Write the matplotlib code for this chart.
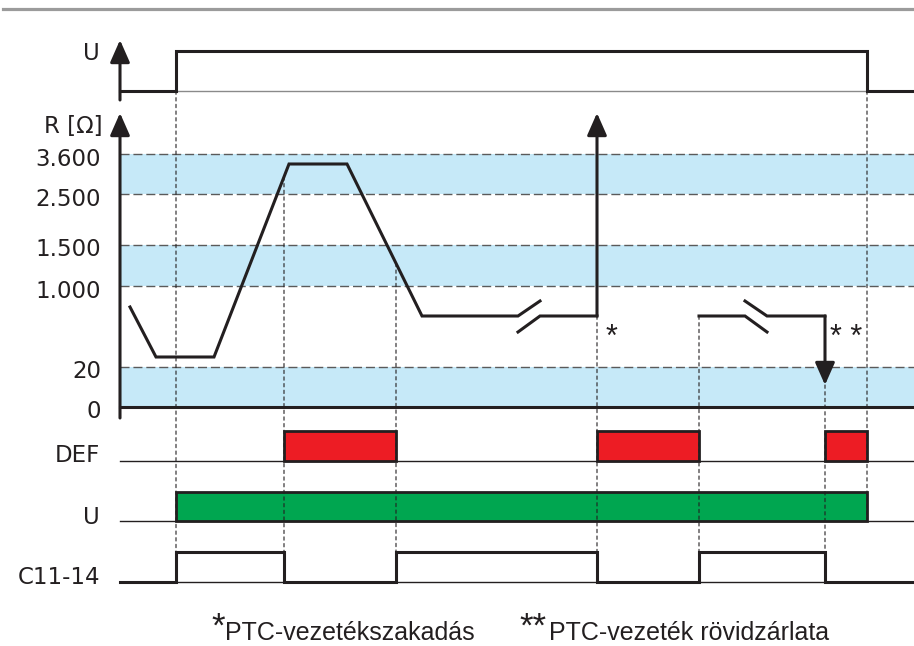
import matplotlib
matplotlib.use("Agg")
import matplotlib.pyplot as plt
import numpy as np
from matplotlib.patches import Rectangle, ConnectionPatch
from matplotlib.lines import Line2D
from matplotlib.transforms import ScaledTranslation

# ---------------- data ----------------
T_END = 794
# supply voltage U (top trace)
u_time = [0, 56, 56, 747, 747, 794]
u_state = [0, 0, 1, 1, 0, 0]

# R axis: tick labels and schematic level positions
r_tick_labels = ["0", "20", "1.000", "1.500", "2.500", "3.600"]
r_tick_levels = [0, 40, 121, 162, 213, 253]
r_band_pairs = [(0, 1), (2, 3), (4, 5)]

# PTC resistance trace (schematic levels)
r_seg1_t = [10, 36, 94, 169, 227, 302, 398, 420]
r_seg1_v = [100, 50, 50, 243, 243, 91, 91, 106]
r_seg2_t = [398, 420, 477]
r_seg2_v = [75, 91, 91]
r_seg3_t = [579, 625, 647]
r_seg3_v = [91, 91, 75]
r_seg4_t = [625, 647, 705]
r_seg4_v = [106, 91, 91]
r_open_arrow = (477, 91, 294)     # wire break: R -> infinity
r_short_arrow = (705, 91, 22)     # short circuit: R -> 0

# DEF LED / relay U LED windows
def_windows = [(164, 276), (477, 579), (705, 747)]
relay_windows = [(56, 747)]

# output contact C11-14
c_time = [0, 56, 56, 164, 164, 276, 276, 477, 477, 579, 579, 705, 705, 794]
c_state = [0, 0, 1, 1, 0, 0, 1, 1, 0, 0, 1, 1, 0, 0]

# ---------------- style ----------------
W, H = 914, 646
INK = "#231F20"
BLUE = "#C6E9F8"
RED = "#ED1C24"
GREEN = "#00A650"
plt.rcParams['font.family'] = ['Liberation Sans', 'DejaVu Sans']
LBL_FONT = ['DejaVu Sans']
LBL_FS = 16.5

fig = plt.figure(figsize=(W / 100, H / 100), dpi=100)


def add_ax(top, bottom, ylim, left=120, right=914):
    ax = fig.add_axes([left / W, 1 - bottom / H, (right - left) / W, (bottom - top) / H])
    ax.set_xlim(0, T_END)
    ax.set_ylim(*ylim)
    ax.axis('off')
    return ax


def off(dx, dy):
    return ScaledTranslation(dx / 100, -dy / 100, fig.dpi_scale_trans)


def row_label(ax, yval, text, dy, dx=-20):
    ax.text(0, yval, text, transform=ax.get_yaxis_transform() + off(dx, dy),
            ha='right', va='center', fontsize=LBL_FS, color=INK, family=LBL_FONT)


def arrow(ax, x0, y0, x1, y1, ms=20):
    ax.annotate('', xy=(x1, y1), xytext=(x0, y0), xycoords='data', annotation_clip=False,
                arrowprops=dict(arrowstyle='-|>,head_length=0.68,head_width=0.3',
                                color=INK, lw=2.2, mutation_scale=ms,
                                shrinkA=0, shrinkB=0))


# top grey rule
fig.add_artist(Line2D([3 / W, 1], [1 - 9 / H] * 2, color='#9b9b9b', lw=2.3))

# ---- top U trace ----
ax_u = add_ax(40, 100, (-0.225, 1.275))
ax_u.plot([0, T_END], [0, 0], color='#8a8a8a', lw=1.0, clip_on=False)
ax_u.plot(u_time, u_state, color=INK, lw=2.2, clip_on=False, solid_joinstyle='miter')
arrow(ax_u, 0, -0.225, 0, 1.275)
row_label(ax_u, 1, "U", 3)

# ---- R trace ----
ax_r = add_ax(113, 418, (-11, 294))
for a, b in r_band_pairs:
    ax_r.axhspan(r_tick_levels[a], r_tick_levels[b], color=BLUE, lw=0, zorder=0)
for lv in r_tick_levels[1:]:
    ax_r.axhline(lv, color='#5a5a5a', lw=1.0, ls=(0, (6.5, 2.8)), zorder=1)
ax_r.plot([0, T_END], [0, 0], color=INK, lw=2.2, clip_on=False, zorder=3)
arrow(ax_r, 0, -11, 0, 294)
for tt, vv in [(r_seg1_t, r_seg1_v), (r_seg2_t, r_seg2_v),
               (r_seg3_t, r_seg3_v), (r_seg4_t, r_seg4_v)]:
    ax_r.plot(tt, vv, color=INK, lw=2.2, clip_on=False, zorder=4, solid_joinstyle='miter')
arrow(ax_r, r_open_arrow[0], r_open_arrow[1], r_open_arrow[0], r_open_arrow[2], ms=20)
arrow(ax_r, r_short_arrow[0], r_short_arrow[1], r_short_arrow[0], r_short_arrow[2], ms=20)
for lv, lab in zip(r_tick_levels, r_tick_labels):
    row_label(ax_r, lv, lab, 5, dx=-19)
ax_r.text(0, 282, "R [Ω]", transform=ax_r.get_yaxis_transform() + off(-17, 2),
          ha='right', va='center', fontsize=LBL_FS, color=INK, family=LBL_FONT)
ax_r.text(r_open_arrow[0], 91, "*", transform=ax_r.transData + off(14, 30),
          ha='center', va='baseline', fontsize=22, color=INK)
ax_r.text(r_short_arrow[0], 91, "* *", transform=ax_r.transData + off(21, 30),
          ha='center', va='baseline', fontsize=22, color=INK)

# ---- DEF row ----
ax_def = add_ax(431, 461, (0, 1))
ax_def.plot([0, T_END], [0, 0], color=INK, lw=1.0, clip_on=False)
for a, b in def_windows:
    ax_def.add_patch(Rectangle((a, 0), b - a, 1, facecolor=RED, edgecolor=INK,
                               lw=2.0, clip_on=False, zorder=3))
row_label(ax_def, 0, "DEF", -5)

# ---- relay U row ----
ax_rel = add_ax(492, 521, (0, 1))
ax_rel.plot([0, T_END], [0, 0], color=INK, lw=1.0, clip_on=False)
for a, b in relay_windows:
    ax_rel.add_patch(Rectangle((a, 0), b - a, 1, facecolor=GREEN, edgecolor=INK,
                               lw=2.0, clip_on=False, zorder=3))
row_label(ax_rel, 0, "U", -3)

# ---- C11-14 row ----
ax_c = add_ax(552, 582, (0, 1))
ax_c.plot([0, T_END], [0, 0], color=INK, lw=1.0, clip_on=False)
ax_c.plot(c_time, c_state, color=INK, lw=2.2, clip_on=False, solid_joinstyle='miter')
row_label(ax_c, 0, "C11-14", -4)

# ---- dotted guide lines ----
r_main_t = r_seg1_t[:7]
r_main_v = r_seg1_v[:7]
guides = [
    (ax_u, u_time[1], 0, ax_c, 1),
    (ax_r, def_windows[0][0], np.interp(def_windows[0][0], r_main_t, r_main_v), ax_c, 1),
    (ax_r, def_windows[0][1], np.interp(def_windows[0][1], r_main_t, r_main_v), ax_c, 1),
    (ax_r, r_open_arrow[0], r_open_arrow[1], ax_c, 1),
    (ax_r, def_windows[1][1], r_seg3_v[0], ax_c, 1),
    (ax_r, r_short_arrow[0], r_short_arrow[2], ax_c, 1),
    (ax_u, u_time[3], 0, ax_rel, 0),
]
for axA, t, yA, axB, yB in guides:
    con = ConnectionPatch(xyA=(t, yA), coordsA=axA.transData,
                          xyB=(t, yB), coordsB=axB.transData,
                          color=INK, lw=0.8, ls=(0, (3, 3)), zorder=2)
    fig.add_artist(con)

# ---- footnotes ----
fig.text(211 / W, 1 - 637 / H, "*", fontsize=25, color=INK, ha='left', va='baseline')
fig.text(225 / W, 1 - 640 / H, "PTC-vezetékszakadás", fontsize=18, color=INK,
         ha='left', va='baseline')
fig.text(519 / W, 1 - 637 / H, "**", fontsize=25, color=INK, ha='left', va='baseline')
fig.text(549 / W, 1 - 640 / H, "PTC-vezeték rövidzárlata", fontsize=18, color=INK,
         ha='left', va='baseline')

fig.savefig("out.png", dpi=100)
